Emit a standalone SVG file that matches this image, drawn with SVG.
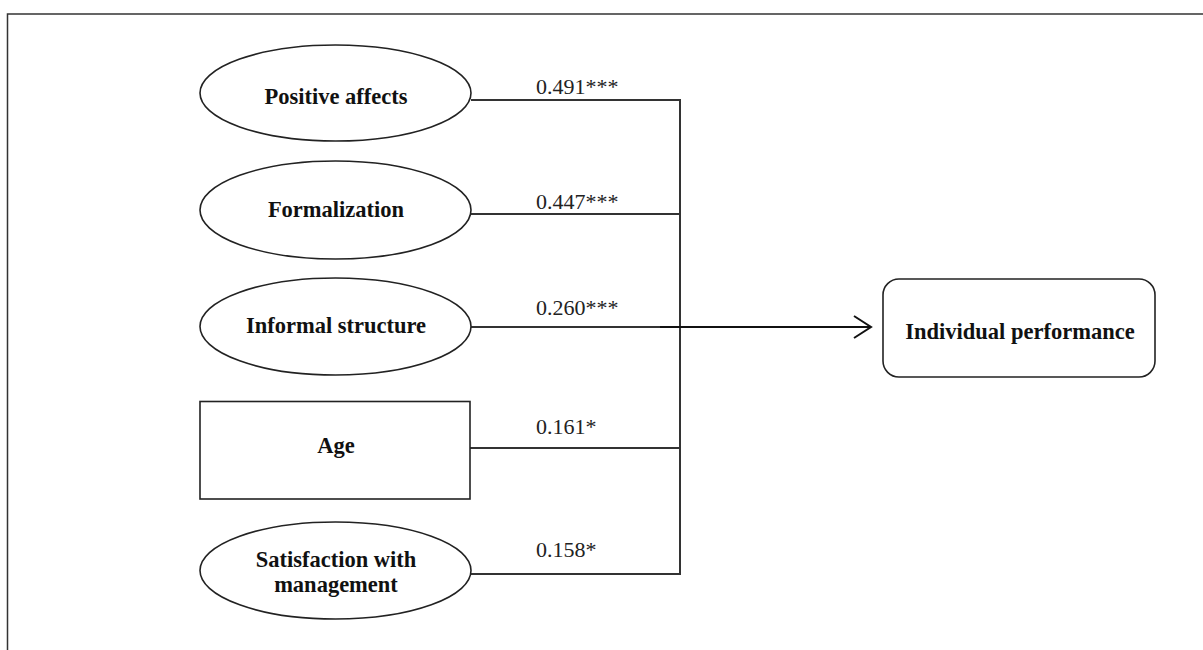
<svg xmlns="http://www.w3.org/2000/svg" width="1203" height="650" viewBox="0 0 1203 650">
<style>
.shape{fill:#fff;stroke:#222;stroke-width:1.6}
.lbl{font-family:"Liberation Serif","Times New Roman",serif;font-weight:bold;font-size:22.5px;fill:#111;text-anchor:middle}
.num{font-family:"Liberation Serif","Times New Roman",serif;font-size:22px;fill:#222}
.ln{stroke:#333;stroke-width:2;fill:none}
</style>
<defs>
<marker id="arr" markerWidth="20" markerHeight="26" refX="18" refY="12" orient="auto" markerUnits="userSpaceOnUse">
<path d="M1,1 L18,12 L1,23" fill="none" stroke="#111" stroke-width="2"/>
</marker>
</defs>
<rect x="7.5" y="14" width="1220" height="660" fill="none" stroke="#333" stroke-width="1.5"/>
<g id="connectors">
<path class="ln" d="M471,100 H680 M471,214 H680 M471,327 H680 M470,448 H680 M471,574 H680 M680,99 V575"/>
<line x1="660" y1="327" x2="871" y2="327" stroke="#111" stroke-width="2" marker-end="url(#arr)"/>
<text class="num" x="536" y="94">0.491***</text>
<text class="num" x="536" y="209">0.447***</text>
<text class="num" x="536" y="315">0.260***</text>
<text class="num" x="536" y="434">0.161*</text>
<text class="num" x="536" y="557">0.158*</text>
</g>
<g id="positive-affects">
<ellipse class="shape" cx="335.5" cy="93" rx="135.5" ry="48"/>
<text class="lbl" x="336" y="104">Positive affects</text>
</g>
<g id="formalization">
<ellipse class="shape" cx="335.5" cy="210" rx="135.5" ry="49"/>
<text class="lbl" x="336" y="217">Formalization</text>
</g>
<g id="informal-structure">
<ellipse class="shape" cx="335.5" cy="326.5" rx="135.5" ry="48.5"/>
<text class="lbl" x="336" y="333">Informal structure</text>
</g>
<g id="age">
<rect class="shape" x="200" y="401.5" width="270" height="97.5"/>
<text class="lbl" x="336" y="453">Age</text>
</g>
<g id="satisfaction">
<ellipse class="shape" cx="335.5" cy="570.5" rx="135.5" ry="48.5"/>
<text class="lbl" x="336" y="567">Satisfaction with</text>
<text class="lbl" x="336" y="592">management</text>
</g>
<g id="individual-performance">
<rect class="shape" x="883" y="279" width="272" height="98" rx="16"/>
<text class="lbl" x="1020" y="339">Individual performance</text>
</g>
</svg>
